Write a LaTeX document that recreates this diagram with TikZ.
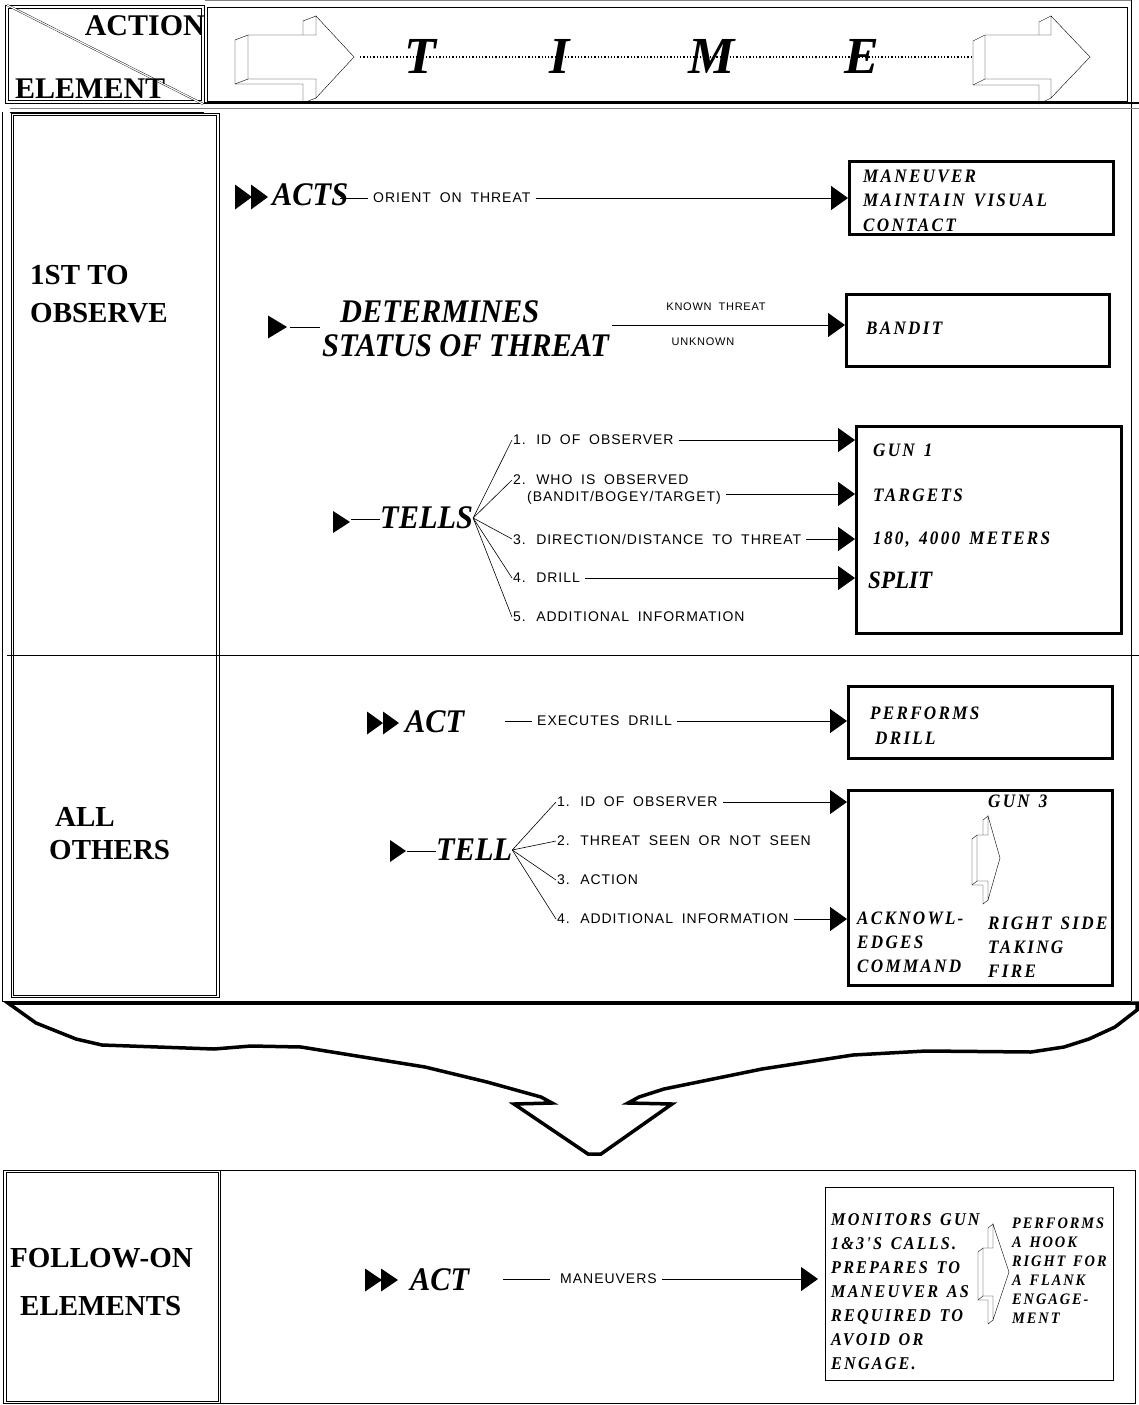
\documentclass[tikz,border=0pt]{standalone}
\usepackage{fontspec}
\setmainfont{Liberation Serif}
\setsansfont{Liberation Sans}
\newfontfamily\boxserif[FakeStretch=0.9, LetterSpace=12, WordSpace=1.4]{Liberation Serif}
\newfontfamily\narrowserif[FakeStretch=0.92]{Liberation Serif}
\newfontfamily\widesans[LetterSpace=7, WordSpace=1.8]{Liberation Sans}
\usetikzlibrary{arrows.meta,positioning}

% filled pointer in front of a verb: x, y, width, height
\newcommand{\pointer}[4]{\fill (#1,{#2-#4/2}) -- ({#1+#3},#2) -- (#1,{#2+#4/2}) -- cycle;}
% hollow 3d block arrow: x, y, shaft length, head length, half shaft, half head, depth x, depth y
\newcommand{\hollowarrow}[8]{%
  \begin{scope}[shift={(#1,#2)}]
    \draw[fill=white] (0,-#5) -- (#3,-#5) -- (#3,-#6) -- ({#3+#4},0) -- (#3,#6) -- (#3,#5) -- (0,#5) -- cycle;
    \draw (0,-#5) -- (-#7,{-#5+#8}) -- (-#7,{#5+#8}) -- ({#3-#7},{#5+#8}) -- ({#3-#7},{#6+#8}) -- (#3,#6);
    \draw (-#7,{#5+#8}) -- (0,#5);
    \draw (#3,-#6) -- ({#3-#7},{-#6+#8}) -- ({#3-#7},-#5);
  \end{scope}}

\begin{document}
\begin{tikzpicture}[x=1pt,y=-1pt,
  hdrtxt/.style={font=\fontsize{30}{32}\selectfont\bfseries, inner sep=0pt},
  rowhead/.style={font=\fontsize{29}{38}\selectfont\bfseries, align=left, inner sep=0pt, anchor=west},
  timeltr/.style={font=\fontsize{52}{52}\selectfont\bfseries\itshape, inner sep=0pt},
  verb/.style={font=\narrowserif\bfseries\itshape\fontsize{33}{36}\selectfont, inner sep=0pt, anchor=west},
  itemtxt/.style={font=\widesans\fontsize{14}{16}\selectfont, inner ysep=0pt, inner xsep=5pt, anchor=west},
  tinytxt/.style={font=\widesans\fontsize{11}{12}\selectfont, inner sep=0pt},
  resbox/.style={draw, line width=3pt, inner sep=0pt, anchor=north west},
  restxt/.style={font=\boxserif\bfseries\itshape\fontsize{19}{21}\selectfont, inner sep=0pt, anchor=west},
  conn/.style={line width=1pt, -{Triangle[length=17pt,width=24pt]}},
  lead/.style={line width=1pt},
  fan/.style={line width=0.6pt}]
\useasboundingbox (0,0) rectangle (1139,1405);

% frames
\draw[gray] (205,0.7) -- (1131,0.7);
\draw (5,5) rectangle (204,103);
\draw (8,8) rectangle (201,100);
\draw (207,7) rectangle (1127,101);
\draw (1131,0) -- (1131,1001);
\draw[line width=1.3pt] (204,103) -- (1139,103);
\draw[gray] (10,108) -- (1139,108);
\draw (10,112) -- (204,112);
\draw (2,112) -- (2,1001) -- (1131,1001);
\draw (11,113) rectangle (219,997);
\draw (13,115) rectangle (216,995);
\draw (7,655) -- (1139,655);
\draw[line width=1pt] (3,1170) rectangle (220,1403);
\draw (6,1172) rectangle (218,1401);
\draw (221,1170) -- (1135,1170) -- (1135,1403) -- (221,1403);

% header
\draw[double, double distance=1.2pt] (7,5) -- (203,104);
\node[hdrtxt, anchor=base east] (action) at (205,36) {ACTION};
\node[hdrtxt, anchor=base west] (element) at (15,98) {ELEMENT};
\coordinate (tipL) at (360,57);
\coordinate (tailR) at (972,57);
\draw[dotted, line width=1.3pt] (tipL) -- (tailR);
\hollowarrow{248}{57}{68}{38}{22}{41}{13}{5}
\hollowarrow{985}{57}{66}{39}{22}{41}{12}{6}
\node[timeltr] (tT) at (420,56) {T};
\node[timeltr] (tI) at (560,56) {I};
\node[timeltr] (tM) at (712,56) {M};
\node[timeltr] (tE) at (862,56) {E};

% left column
\node[rowhead] (first) at (30,294) {1ST TO\\OBSERVE};
\node[rowhead, font=\fontsize{29}{33}\selectfont\bfseries] (others) at (49,834) {\hspace*{6pt}ALL\\OTHERS};
\node[rowhead, font=\fontsize{29}{48}\selectfont\bfseries] (follow) at (10,1282) {FOLLOW-ON\\\hspace*{10pt}ELEMENTS};

% acts
\pointer{235}{197}{17}{25}
\pointer{251}{197}{17}{25}
\node[verb] (acts) at (272,195) {ACTS};
\node[itemtxt] (orient) at (368,198) {ORIENT ON THREAT};
\node[resbox, minimum width=264pt, minimum height=73pt] (bxacts) at (848,160) {};
\node[restxt] (mnv1) at (863,176) {MANEUVER};
\node[restxt] (mnv2) at (863,200) {MAINTAIN VISUAL};
\node[restxt] (mnv3) at (863,225) {CONTACT};
\draw[lead] (orient.west) -- ++(-28,0);
\draw[conn] (orient.east) -- (orient.east -| bxacts.west);

% determines
\pointer{268}{327}{19}{23}
\coordinate (detin) at (290,327);
\coordinate (detlead) at (320,327);
\draw[lead] (detin) -- (detlead);
\node[verb] (det1) at (340,312) {DETERMINES};
\node[verb] (det2) at (322,346) {STATUS OF THREAT};
\node[tinytxt] (known) at (716,307) {KNOWN THREAT};
\node[tinytxt] (unknown) at (703,342) {UNKNOWN};
\node[resbox, minimum width=263pt, minimum height=72pt] (bxdet) at (845,293) {};
\node[restxt] (bandit) at (866,328) {BANDIT};
\coordinate (detout) at (612,325);
\draw[conn] (detout) -- (detout -| bxdet.west);

% tells
\pointer{333}{522}{17}{22}
\coordinate (tellsin) at (351,519);
\node[verb] (tells) at (380,518) {TELLS};
\draw[lead] (tellsin) -- (tellsin -| tells.west);
\node[itemtxt] (t1) at (508,440) {1. ID OF OBSERVER};
\node[itemtxt] (t2) at (508,480) {2. WHO IS OBSERVED};
\node[itemtxt] (t2b) at (522,498) {(BANDIT/BOGEY/TARGET)};
\node[itemtxt] (t3) at (508,539) {3. DIRECTION/DISTANCE TO THREAT};
\node[itemtxt] (t4) at (508,578) {4. DRILL};
\node[itemtxt] (t5) at (508,617) {5. ADDITIONAL INFORMATION};
\foreach \n in {t1,t2,t3,t4,t5}
  \draw[fan] (tells.east) -- ([xshift=4pt]\n.west);
\node[resbox, minimum width=265pt, minimum height=207pt] (bxtells) at (855,425) {};
\draw[conn] (t1.east) -- (t1.east -| bxtells.west);
\draw[conn] ([yshift=4pt]t2b.east) -- ([yshift=4pt]t2b.east -| bxtells.west);
\draw[conn] (t3.east) -- (t3.east -| bxtells.west);
\draw[conn] (t4.east) -- (t4.east -| bxtells.west);
\node[restxt] (gun1) at (873,450) {GUN 1};
\node[restxt] (targets) at (873,495) {TARGETS};
\node[restxt] (meters) at (873,540) {180, 4000 METERS};
\node[restxt, font=\narrowserif\bfseries\itshape\fontsize{25}{27}\selectfont] (split) at (868,580) {SPLIT};

% act (all others)
\pointer{367}{723}{16}{23}
\pointer{383}{723}{16}{23}
\node[verb] (act) at (405,722) {ACT};
\coordinate (execin) at (505,721);
\node[itemtxt] (exec) at (532,721) {EXECUTES DRILL};
\draw[lead] (execin) -- (exec.west);
\node[resbox, minimum width=264pt, minimum height=72pt] (bxact) at (847,685) {};
\draw[conn] (exec.east) -- (exec.east -| bxact.west);
\node[restxt] (perf1) at (870,713) {PERFORMS};
\node[restxt] (perf2) at (875,738) {DRILL};

% tell (all others)
\pointer{390}{851}{16}{22}
\coordinate (tellin) at (407,851);
\node[verb] (tell) at (436,850) {TELL};
\draw[lead] (tellin) -- (tellin -| tell.west);
\node[itemtxt] (e1) at (552,802) {1. ID OF OBSERVER};
\node[itemtxt] (e2) at (552,841) {2. THREAT SEEN OR NOT SEEN};
\node[itemtxt] (e3) at (552,880) {3. ACTION};
\node[itemtxt] (e4) at (552,919) {4. ADDITIONAL INFORMATION};
\foreach \n in {e1,e2,e3,e4}
  \draw[fan] (tell.east) -- ([xshift=4pt]\n.west);
\node[resbox, minimum width=264pt, minimum height=195pt] (bxtell) at (847,789) {};
\draw[conn] (e1.east) -- (e1.east -| bxtell.west);
\draw[conn] (e4.east) -- (e4.east -| bxtell.west);
\node[restxt] (gun3) at (988,801) {GUN 3};
\hollowarrow{977}{858}{11}{12}{23}{42}{5}{4}
\node[restxt] (ack1) at (857,918) {ACKNOWL-};
\node[restxt] (ack2) at (857,942) {EDGES};
\node[restxt] (ack3) at (857,966) {COMMAND};
\node[restxt] (rs1) at (988,923) {RIGHT SIDE};
\node[restxt] (rs2) at (988,947) {TAKING};
\node[restxt] (rs3) at (988,971) {FIRE};

% brace down to follow-on elements
\draw[line width=3.5pt, line join=miter] (8,1003) -- (36,1023) -- (76,1039) -- (102,1045) -- (214,1049)
  -- (251,1046) -- (301,1047) -- (425,1067) -- (487,1082) -- (541,1097) -- (552,1103)
  -- (514,1104) -- (588,1154) -- (601,1154) -- (672,1104) -- (628,1103) -- (639,1097)
  -- (664,1089) -- (762,1069) -- (853,1055) -- (926,1051) -- (1031,1052) -- (1064,1047)
  -- (1089,1039) -- (1115,1027) -- (1137,1010) -- (1137,1003) -- cycle;

% act (follow-on)
\pointer{365}{1280}{17}{23}
\pointer{381}{1280}{17}{23}
\node[verb] (fact) at (410,1280) {ACT};
\coordinate (mvin) at (503,1279);
\node[itemtxt] (mvr) at (555,1279) {MANEUVERS};
\draw[lead] (mvin) -- ++(47,0);
\node[draw, line width=1pt, inner sep=0pt, anchor=north west, minimum width=288pt, minimum height=193pt] (bxfollow) at (825,1187) {};
\draw[conn] (mvr.east) -- ([xshift=-7pt]mvr.east -| bxfollow.west);
\node[restxt, font=\boxserif\bfseries\itshape\fontsize{18}{24}\selectfont, align=left, anchor=north west] (monitor) at (831,1213)
  {MONITORS GUN\\1\&3'S CALLS.\\PREPARES TO\\MANEUVER AS\\REQUIRED TO\\AVOID OR\\ENGAGE.};
\hollowarrow{983}{1272}{10}{16}{24}{48}{5}{4}
\node[restxt, font=\boxserif\bfseries\itshape\fontsize{16}{19}\selectfont, align=left, anchor=north west] (hook) at (1012,1218)
  {PERFORMS\\A HOOK\\RIGHT FOR\\A FLANK\\ENGAGE-\\MENT};
\end{tikzpicture}
\end{document}
